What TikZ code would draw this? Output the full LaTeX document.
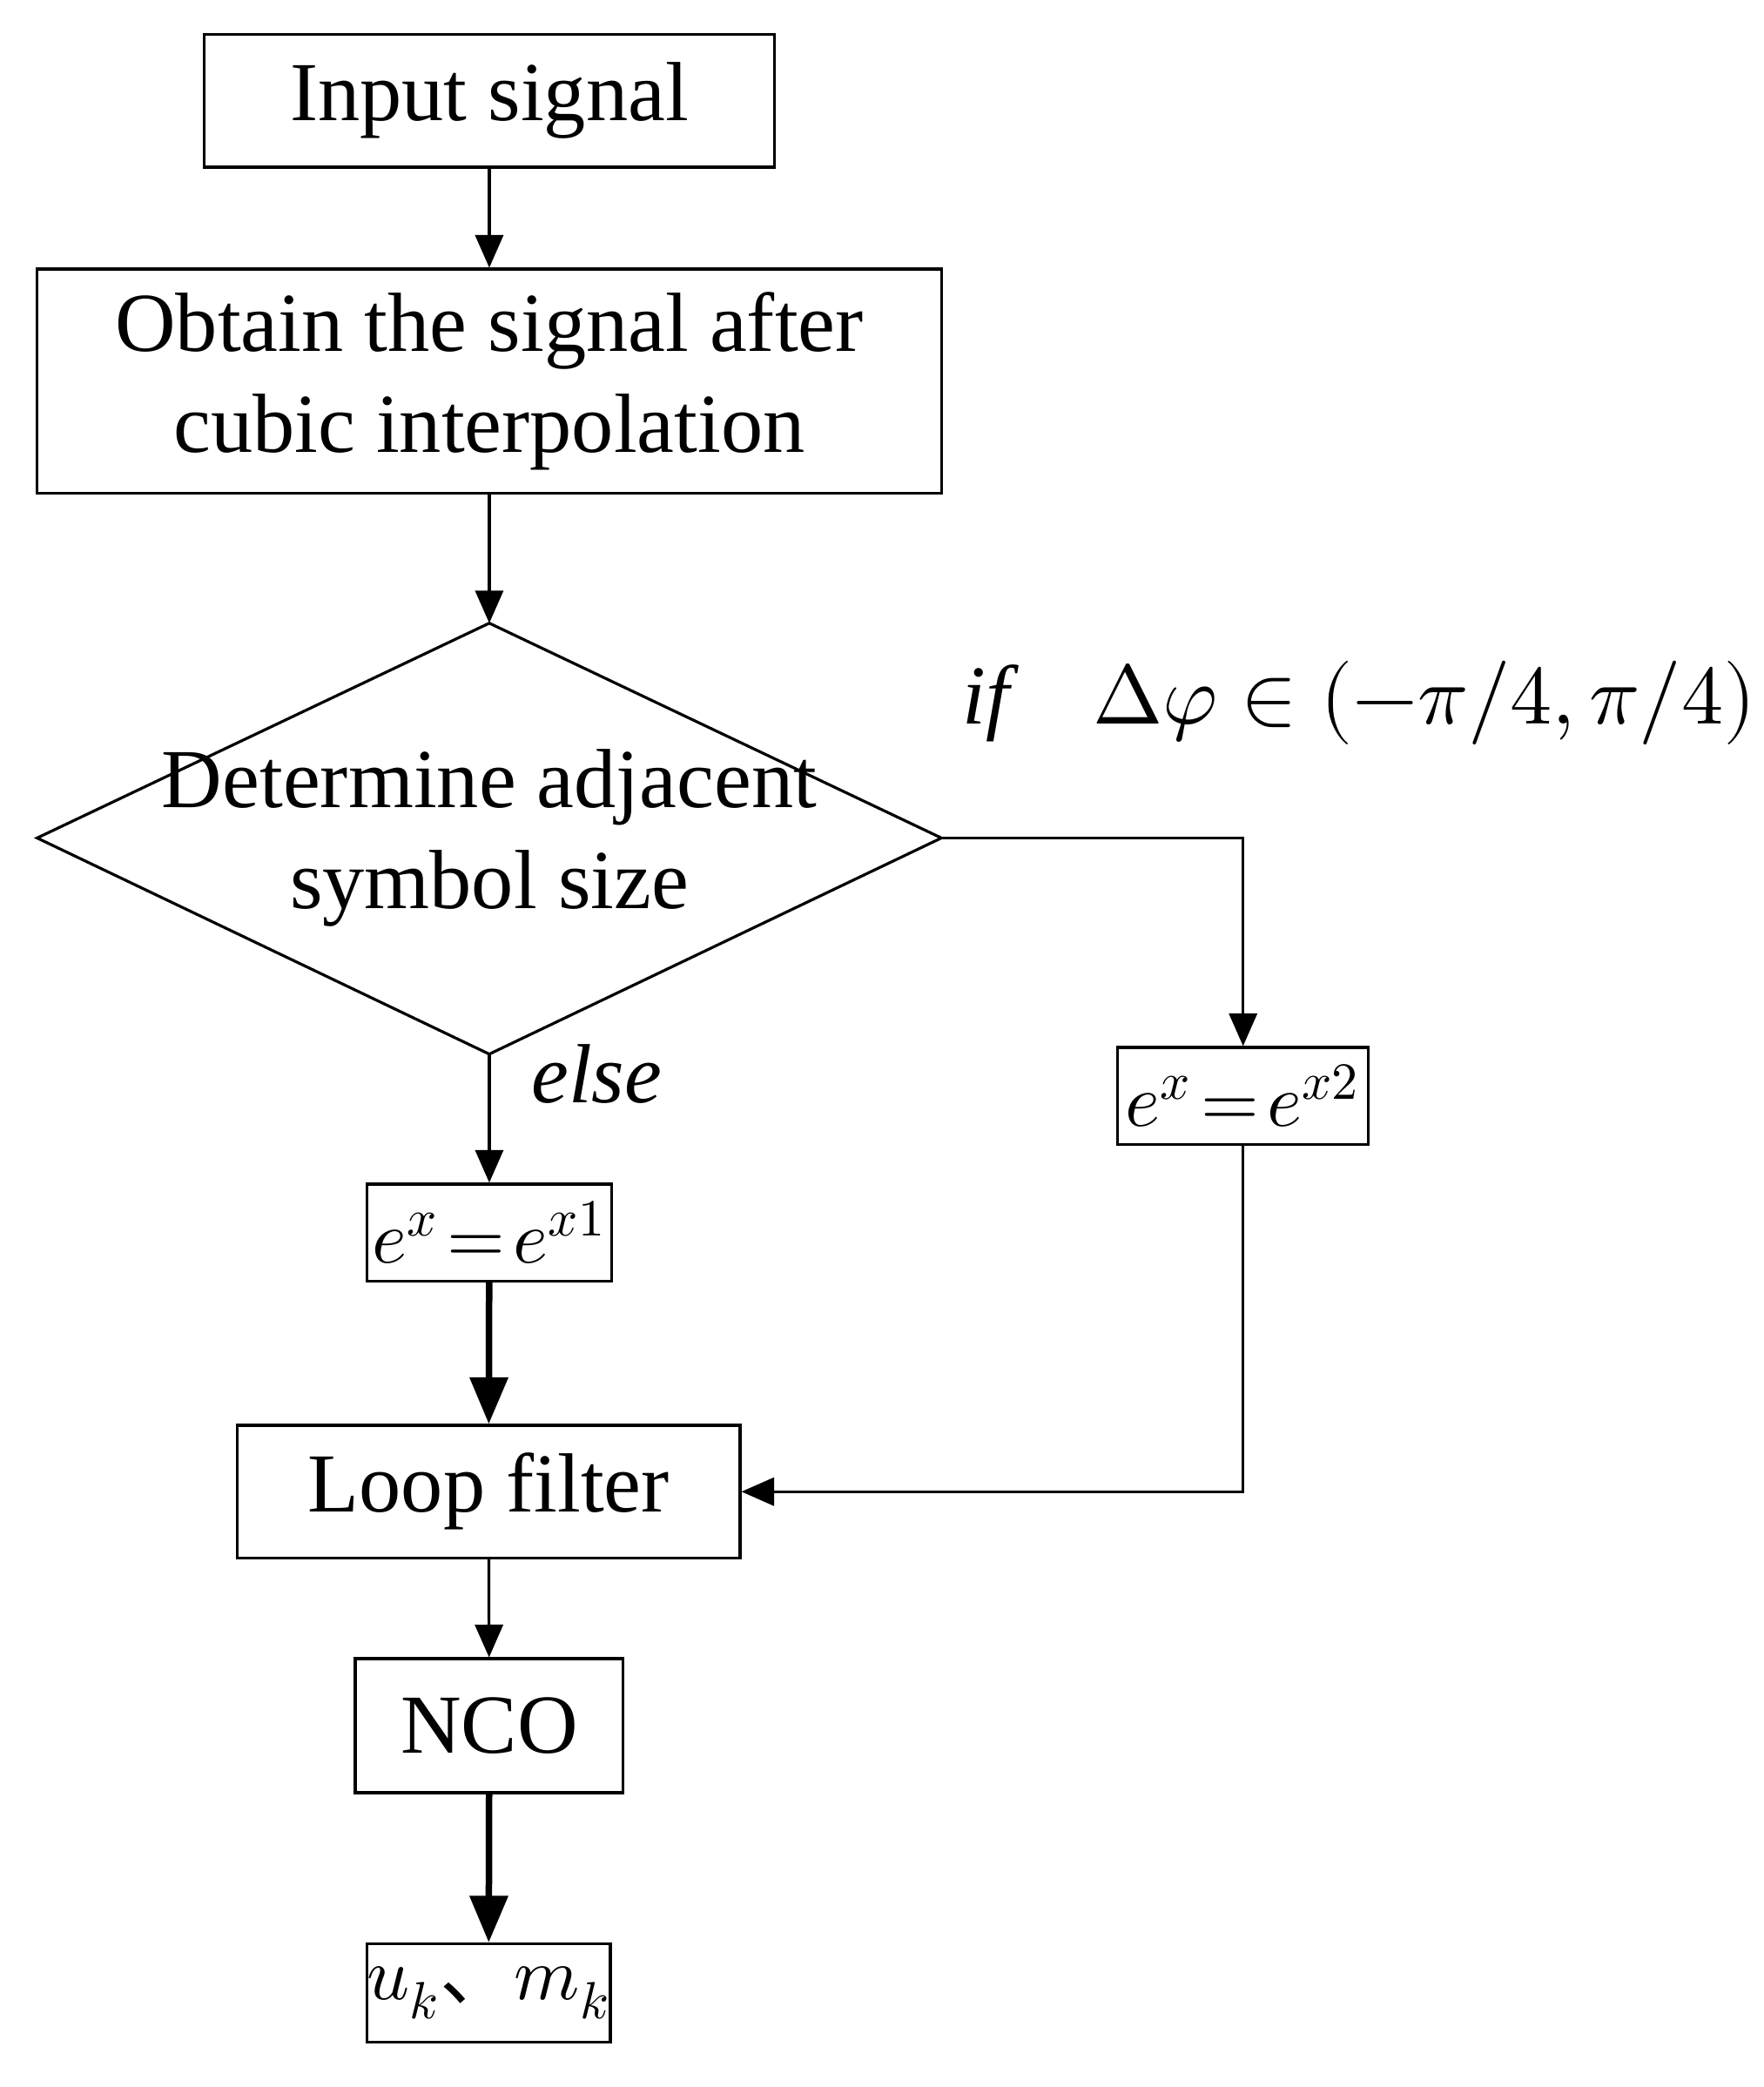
\documentclass[tikz,border=0pt]{standalone}
\usepackage{fontspec}
\setmainfont{Liberation Serif}
\newfontfamily\cjk{Noto Sans CJK SC}
\usepackage{unicode-math}
\setmathfont{Latin Modern Math}
\usetikzlibrary{arrows.meta,shapes.geometric}
\begin{document}
\begin{tikzpicture}[x=0.01cm,y=-0.01cm,
 box/.style={draw,line width=0.6pt,inner sep=0pt,font=\fontsize{18}{21.5}\selectfont,align=center},
 thin/.style={draw,line width=0.6pt,-{Triangle[length=7pt,width=6pt]}},
 thick/.style={draw,line width=1.4pt,-{Triangle[length=10pt,width=8pt]}}]
\useasboundingbox (0,0) rectangle (1330,1574);
\node[box,minimum width=4.30cm,minimum height=1.00cm] (in) at (369,76) {Input signal};
\node[box,minimum width=6.82cm,minimum height=1.69cm] (ob) at (369,287.5) {Obtain the signal after\\cubic interpolation};
\coordinate (dt) at (369,470); \coordinate (dl) at (28,632); \coordinate (dr) at (710,632); \coordinate (db) at (369,795);
\draw[line width=0.6pt] (dt)--(dr)--(db)--(dl)--cycle;
\node[font=\fontsize{18}{21.5}\selectfont,align=center] (dtext) at (369,632) {Determine adjacent\\symbol size};
\node[box,minimum width=1.89cm,minimum height=0.73cm] (e2) at (937.5,826.5) {\fontsize{16}{18}\selectfont$e^{x}\!=\!e^{x2}$};
\node[box,minimum width=1.84cm,minimum height=0.73cm] (e1) at (369,929.5) {\fontsize{16}{18}\selectfont$e^{x}\!=\!e^{x1}$};
\node[box,minimum width=3.79cm,minimum height=1.00cm] (lf) at (368.5,1125) {Loop filter};
\node[box,minimum width=2.02cm,minimum height=1.01cm] (nco) at (369,1301.5) {NCO};
\node[box,minimum width=1.77cm,minimum height=0.74cm] (uk) at (368.5,1503) {\fontsize{16}{18}\selectfont$u_k${\cjk 、}$m_k$};
\node[font=\fontsize{18}{20}\selectfont] (ift) at (1025,530) {$\mathit{if}\quad \Delta\varphi\in\left(-\pi/4,\pi/4\right)$};
\node[font=\fontsize{18}{20}\selectfont\itshape] (el) at (450,810) {else};
\path[thin] (in)--(ob);
\path[thin] (ob)--(dt);
\path[thin] (db)--(e1);
\path[thin] (dr)-|(e2);
\path[thin] (e2)|-(lf);
\path[thin] (lf)--(nco);
\path[thick] (e1)--(lf);
\path[thick] (nco)--(uk);
\end{tikzpicture}
\end{document}
